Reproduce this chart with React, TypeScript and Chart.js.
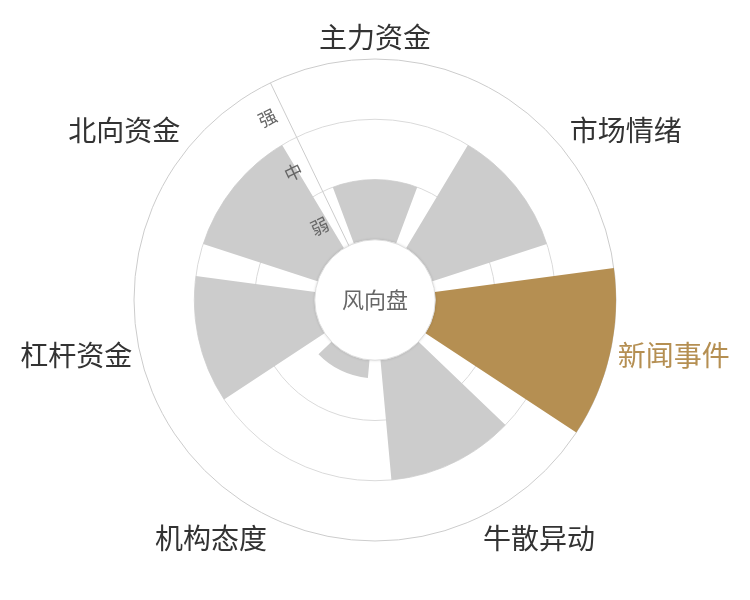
import { useEffect, useRef } from "react";
import { Chart, registerables } from "chart.js";

Chart.register(...registerables);

const FONT = '"Noto Sans CJK SC", "Noto Sans", sans-serif';

// categories clockwise from the top
const categories = ["主力资金", "市场情绪", "新闻事件", "牛散异动", "机构态度", "杠杆资金", "北向资金"];
// strength level per category (0 = none, 1 = 弱, 2 = 中, 3 = 强)
const strength = [1, 2, 3, 2, 0.3, 2, 2];
const levelValues = [0.5, 1.5, 2.5];
const levelLabels = ["弱", "中", "强"];
const ringValues = [1, 2, 3];
const highlightIndex = 2;
const centerTitle = "风向盘";

const GRAY = "#cccccc";
const GOLD = "#b58f52";
const SCALE_MIN = -1; // value 0 sits on the edge of the centre hole
const SCALE_MAX = 3;

const slot = 360 / categories.length;
const barAngle = 41;
const gapAngle = slot - barAngle;

// bars interleaved with empty gap slices so each bar sits centred in its slot
const sliceValues: number[] = [];
const sliceAngles: number[] = [];
const sliceColors: string[] = [];
sliceValues.push(SCALE_MIN);
sliceAngles.push(gapAngle / 2);
sliceColors.push("rgba(0,0,0,0)");
strength.forEach((v, i) => {
  sliceValues.push(v);
  sliceAngles.push(barAngle);
  sliceColors.push(i === highlightIndex ? GOLD : GRAY);
  if (i < strength.length - 1) {
    sliceValues.push(SCALE_MIN);
    sliceAngles.push(gapAngle);
    sliceColors.push("rgba(0,0,0,0)");
  }
});

const roseDecor = {
  id: "roseDecor",
  afterDatasetsDraw(chart: any) {
    const r = chart.scales.r;
    const ctx = chart.ctx;
    const cx = r.xCenter;
    const cy = r.yCenter;
    const hole = r.getDistanceFromCenterForValue(0);
    ctx.save();
    // centre hole
    ctx.beginPath();
    ctx.arc(cx, cy, hole, 0, Math.PI * 2);
    ctx.fillStyle = "#ffffff";
    ctx.shadowColor = "rgba(0,0,0,0.18)";
    ctx.shadowBlur = 3;
    ctx.fill();
    ctx.shadowColor = "rgba(0,0,0,0)";
    ctx.shadowBlur = 0;
    ctx.strokeStyle = "#dddddd";
    ctx.lineWidth = 1;
    ctx.stroke();
    ctx.fillStyle = "#666666";
    ctx.font = `22px ${FONT}`;
    ctx.textAlign = "center";
    ctx.textBaseline = "middle";
    ctx.fillText(centerTitle, cx, cy);

    // category labels around the outer ring
    const R = r.drawingArea;
    const extra = Math.PI / categories.length;
    ctx.font = `28px ${FONT}`;
    categories.forEach((name, i) => {
      const a = r.getIndexAngle(i) - Math.PI / 2 + extra;
      const x = cx + Math.cos(a) * (R + 8);
      const y = cy + Math.sin(a) * (R + 8);
      const dx = x - cx;
      const dy = y - cy;
      ctx.textAlign = Math.abs(dx) / R < 0.3 ? "center" : dx > 0 ? "left" : "right";
      ctx.textBaseline = Math.abs(dy) / R < 0.3 ? "middle" : dy > 0 ? "top" : "bottom";
      ctx.fillStyle = i === highlightIndex ? GOLD : "#333333";
      ctx.fillText(name, x, y);
    });
    ctx.restore();
  },
};

export default function App() {
  const canvasRef = useRef<HTMLCanvasElement>(null);
  const chartRef = useRef<Chart | null>(null);

  useEffect(() => {
    if (!canvasRef.current) return;
    const ctx = canvasRef.current.getContext("2d");
    if (!ctx) return;
    Chart.defaults.font.family = FONT;
    chartRef.current?.destroy();
    chartRef.current = new Chart(ctx, {
      type: "polarArea",
      data: {
        labels: categories,
        datasets: [
          {
            data: sliceValues,
            backgroundColor: sliceColors,
            borderWidth: 0,
            angle: (c: any) => sliceAngles[c.dataIndex],
          } as any,
        ],
      },
      options: {
        animation: false,
        responsive: true,
        maintainAspectRatio: false,
        layout: { padding: 50 },
        plugins: {
          legend: { display: false },
          tooltip: { enabled: false },
        },
        scales: {
          r: {
            min: SCALE_MIN,
            max: SCALE_MAX,
            startAngle: -slot / 2,
            ticks: {
              stepSize: 0.5,
              z: 1,
              showLabelBackdrop: false,
              backdropPadding: 0,
              color: "#666666",
              font: { size: 18, family: FONT },
              callback: (v: any) => {
                const k = levelValues.indexOf(Math.round(Number(v) * 2) / 2);
                return k >= 0 ? levelLabels[k] + "\u3000\u3000" : "";
              },
            },
            grid: {
              circular: true,
              lineWidth: 1,
              color: (c: any) => {
                const v = c.tick ? c.tick.value : null;
                if (v === SCALE_MAX) return "#cccccc";
                return ringValues.includes(v) ? "#dadada" : "rgba(0,0,0,0)";
              },
            },
            angleLines: {
              display: true,
              color: (c: any) => (c.index === 0 ? "#cccccc" : "rgba(0,0,0,0)"),
            },
            pointLabels: { display: false, centerPointLabels: true },
          },
        },
      } as any,
      plugins: [roseDecor],
    });
    return () => {
      chartRef.current?.destroy();
      chartRef.current = null;
    };
  }, []);

  return (
    <div style={{ position: "absolute", left: 0, top: 0, width: 750, height: 600, background: "#fff" }}>
      <canvas ref={canvasRef}></canvas>
    </div>
  );
}
